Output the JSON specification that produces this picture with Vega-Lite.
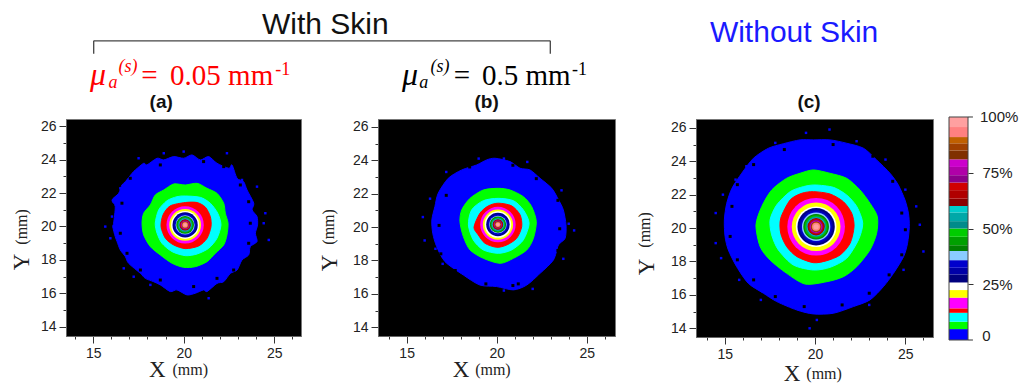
{"$schema":"https://vega.github.io/schema/vega-lite/v6.json","padding":{"left":10,"top":9,"right":0,"bottom":0},"bounds":"flush","spacing":0,"background":"white",
"config":{"range":{"ordinal":["#0000ff","#00ff00","#00ffff","#ff0000","#ff00ff","#ffff00","#ffffff","#00007f","#0000a8","#0000cc","#8accff","#008000","#00a000","#00cc00","#008b8b","#00a8a8","#00cccc","#8b0000","#b00000","#d00000","#8b008b","#b000a8","#cc00cc","#803000","#a04000","#c06000","#ff8080","#ffa0a0"]},"axis":{"grid":false,"title":null,"labelFont":"Liberation Sans","labelFontSize":14,"labelColor":"#222","tickColor":"#333","domainColor":"#666","labelPadding":3,"labelFlush":false,"labelOverlap":false},"view":{"stroke":null},"line":{"interpolate":"cardinal-closed","tension":0.2}},
"hconcat":[
{"width":235,"height":217,"view":{"fill":"black","stroke":"#777"},
"encoding":{"x":{"field":"x","type":"quantitative","scale":{"domain":[13.5,26.48],"nice":false,"zero":false},"axis":{"orient":"bottom","values":[14,15,16,17,18,19,20,21,22,23,24,25,26],"tickSize":{"expr":"datum.value%5==0?7:3"},"labelExpr":"datum.value%5==0?datum.label:''"}},"y":{"field":"y","type":"quantitative","scale":{"domain":[13.44,26.43],"nice":false,"zero":false},"axis":{"orient":"left","values":[14,15,16,17,18,19,20,21,22,23,24,25,26],"tickSize":{"expr":"datum.value%2==0?7:3"},"labelExpr":"datum.value%2==0?datum.label:''"}}},
"layer":[
{"data":{"values":[{"i":0,"x":20,"y":24.08},{"i":1,"x":20.46,"y":24.28},{"i":2,"x":20.92,"y":23.98},{"i":3,"x":21.38,"y":24.18},{"i":4,"x":21.84,"y":23.78},{"i":5,"x":22.49,"y":23.48},{"i":6,"x":22.67,"y":23.68},{"i":7,"x":22.95,"y":22.88},{"i":8,"x":23.31,"y":22.68},{"i":9,"x":23.5,"y":22.18},{"i":10,"x":23.87,"y":21.39},{"i":11,"x":23.78,"y":20.99},{"i":12,"x":24.05,"y":20.59},{"i":13,"x":24.08,"y":20.09},{"i":14,"x":23.96,"y":19.59},{"i":15,"x":24.05,"y":19.09},{"i":16,"x":23.68,"y":18.79},{"i":17,"x":23.59,"y":18.29},{"i":18,"x":23.22,"y":17.99},{"i":19,"x":22.95,"y":17.39},{"i":20,"x":22.58,"y":17.19},{"i":21,"x":22.21,"y":16.69},{"i":22,"x":21.84,"y":16.59},{"i":23,"x":21.29,"y":16.1},{"i":24,"x":21.1,"y":16.2},{"i":25,"x":20.64,"y":16},{"i":26,"x":20.18,"y":15.9},{"i":27,"x":19.63,"y":16.2},{"i":28,"x":19.26,"y":16.1},{"i":29,"x":18.71,"y":16.5},{"i":30,"x":18.34,"y":16.69},{"i":31,"x":17.88,"y":16.89},{"i":32,"x":17.61,"y":17.19},{"i":33,"x":16.96,"y":17.79},{"i":34,"x":16.78,"y":18.19},{"i":35,"x":16.5,"y":18.59},{"i":36,"x":16.32,"y":19.09},{"i":37,"x":16.22,"y":19.39},{"i":38,"x":16.08,"y":19.99},{"i":39,"x":16.13,"y":20.19},{"i":40,"x":16.22,"y":21.19},{"i":41,"x":16.04,"y":21.58},{"i":42,"x":16.41,"y":21.98},{"i":43,"x":16.59,"y":22.48},{"i":44,"x":16.78,"y":22.68},{"i":45,"x":17.15,"y":23.18},{"i":46,"x":17.33,"y":23.38},{"i":47,"x":17.79,"y":23.78},{"i":48,"x":17.97,"y":23.68},{"i":49,"x":18.53,"y":24.08},{"i":50,"x":18.9,"y":23.98},{"i":51,"x":19.45,"y":24.18}]},"mark":{"type":"line","fill":"#0000ff","stroke":"#0000ff","strokeWidth":1},"encoding":{"order":{"field":"i","type":"quantitative"}}},
{"data":{"values":[{"x":18.71,"y":23.68},{"x":21.1,"y":23.88},{"x":22.21,"y":23.58},{"x":23.13,"y":22.48},{"x":23.59,"y":21.48},{"x":23.68,"y":20.19},{"x":23.59,"y":18.99},{"x":22.76,"y":17.39},{"x":21.84,"y":16.89},{"x":20.55,"y":16.4},{"x":18.71,"y":16.79},{"x":17.61,"y":17.39},{"x":16.87,"y":18.39},{"x":16.5,"y":19.59},{"x":16.59,"y":21.39},{"x":17.05,"y":22.88}]},"mark":{"type":"point","shape":"square","filled":true,"opacity":1,"strokeWidth":0,"size":9,"color":"#000"}},
{"data":{"values":[{"x":18.9,"y":24.38},{"x":20,"y":24.48},{"x":22.39,"y":24.38},{"x":17.51,"y":24.08},{"x":15.67,"y":19.99},{"x":16.04,"y":20.59},{"x":15.95,"y":19.29},{"x":16.13,"y":21.49},{"x":16.5,"y":22.28},{"x":24.51,"y":20.79},{"x":24.42,"y":20.19},{"x":24.7,"y":19.19},{"x":21.38,"y":15.7},{"x":18.16,"y":16.5},{"x":16.69,"y":17.49},{"x":23.22,"y":22.78},{"x":24.05,"y":22.38},{"x":17.24,"y":16.99}]},"mark":{"type":"point","shape":"square","filled":true,"opacity":1,"strokeWidth":0,"size":6,"color":"#0000ff"}},
{"data":{"values":[{"i":0,"x":20.09,"y":22.48},{"i":1,"x":20.74,"y":22.58},{"i":2,"x":21.29,"y":22.28},{"i":3,"x":21.84,"y":21.98},{"i":4,"x":22.21,"y":21.39},{"i":5,"x":22.3,"y":20.79},{"i":6,"x":22.45,"y":20.19},{"i":7,"x":22.39,"y":19.49},{"i":8,"x":22.21,"y":18.89},{"i":9,"x":21.75,"y":18.39},{"i":10,"x":21.29,"y":17.89},{"i":11,"x":20.64,"y":17.59},{"i":12,"x":20,"y":17.55},{"i":13,"x":19.36,"y":17.79},{"i":14,"x":18.71,"y":18.29},{"i":15,"x":18.16,"y":18.79},{"i":16,"x":17.79,"y":19.49},{"i":17,"x":17.7,"y":20.19},{"i":18,"x":17.79,"y":20.79},{"i":19,"x":18.16,"y":21.29},{"i":20,"x":18.43,"y":21.88},{"i":21,"x":18.9,"y":22.18},{"i":22,"x":19.45,"y":22.54}]},"mark":{"type":"line","fill":"#00ff00","stroke":"#00ff00","strokeWidth":1},"encoding":{"order":{"field":"i","type":"quantitative"}}},
{"data":{"values":[{"i":0,"x":20.09,"y":21.82},{"i":1,"x":20.92,"y":21.74},{"i":2,"x":21.47,"y":21.39},{"i":3,"x":21.88,"y":20.79},{"i":4,"x":22.06,"y":20.09},{"i":5,"x":21.84,"y":19.29},{"i":6,"x":21.38,"y":18.69},{"i":7,"x":20.74,"y":18.35},{"i":8,"x":20.09,"y":18.25},{"i":9,"x":19.36,"y":18.49},{"i":10,"x":18.8,"y":18.99},{"i":11,"x":18.53,"y":19.59},{"i":12,"x":18.43,"y":20.19},{"i":13,"x":18.62,"y":20.99},{"i":14,"x":19.08,"y":21.54},{"i":15,"x":19.63,"y":21.78}]},"mark":{"type":"line","fill":"#00ffff","stroke":"#00ffff","strokeWidth":1},"encoding":{"order":{"field":"i","type":"quantitative"}}},
{"data":{"values":[{"i":0,"x":20.09,"y":21.43},{"i":1,"x":20.74,"y":21.43},{"i":2,"x":21.2,"y":21.15},{"i":3,"x":21.47,"y":20.59},{"i":4,"x":21.51,"y":19.99},{"i":5,"x":21.29,"y":19.29},{"i":6,"x":20.83,"y":18.83},{"i":7,"x":20.09,"y":18.67},{"i":8,"x":19.45,"y":18.89},{"i":9,"x":18.99,"y":19.29},{"i":10,"x":18.75,"y":19.99},{"i":11,"x":18.86,"y":20.69},{"i":12,"x":19.26,"y":21.23}]},"mark":{"type":"line","fill":"#ff0000","stroke":"#ff0000","strokeWidth":1},"encoding":{"order":{"field":"i","type":"quantitative"}}},
{"data":{"values":[{"l":5,"r":1.21,"x":20.08,"y":20.09},{"l":6,"r":1.03,"x":20.08,"y":20.09},{"l":7,"r":0.91,"x":20.08,"y":20.09},{"l":8,"r":0.82,"x":20.08,"y":20.09},{"l":9,"r":0.75,"x":20.08,"y":20.09},{"l":10,"r":0.69,"x":20.08,"y":20.09},{"l":11,"r":0.62,"x":20.08,"y":20.09},{"l":12,"r":0.57,"x":20.08,"y":20.09},{"l":13,"r":0.53,"x":20.08,"y":20.09},{"l":14,"r":0.49,"x":20.08,"y":20.09},{"l":15,"r":0.46,"x":20.08,"y":20.09},{"l":16,"r":0.43,"x":20.08,"y":20.09},{"l":17,"r":0.4,"x":20.08,"y":20.09},{"l":18,"r":0.37,"x":20.08,"y":20.09},{"l":19,"r":0.34,"x":20.08,"y":20.09},{"l":20,"r":0.32,"x":20.08,"y":20.09},{"l":21,"r":0.29,"x":20.08,"y":20.09},{"l":22,"r":0.26,"x":20.08,"y":20.09},{"l":23,"r":0.24,"x":20.08,"y":20.09},{"l":24,"r":0.22,"x":20.08,"y":20.09},{"l":25,"r":0.21,"x":20.08,"y":20.09},{"l":26,"r":0.19,"x":20.08,"y":20.09},{"l":27,"r":0.17,"x":20.08,"y":20.09},{"l":28,"r":0.11,"x":20.08,"y":20.09}]},"mark":{"type":"point","filled":true,"opacity":1,"strokeWidth":0},"encoding":{"color":{"field":"l","type":"ordinal","legend":null,"scale":{"domain":[1,2,3,4,5,6,7,8,9,10,11,12,13,14,15,16,17,18,19,20,21,22,23,24,25,26,27,28]}},"size":{"field":"r","type":"quantitative","legend":null,"scale":{"type":"pow","exponent":2,"domain":[0,10],"range":[0,95114]}}}},
{"data":{"values":[{"x":15.03,"x2":40.25,"y":31.11,"y2":31.11},{"x":15.03,"x2":15.03,"y":31.11,"y2":30.33},{"x":40.25,"x2":40.25,"y":31.11,"y2":30.33}]},"mark":{"type":"rule","color":"#444","strokeWidth":1.3},"encoding":{"x2":{"field":"x2"},"y2":{"field":"y2"}}},
{"data":{"values":[{"t":"With Skin","x":27.82,"y":32.04}]},"mark":{"type":"text","font":"Liberation Sans","fontSize":30,"color":"#111","baseline":"middle"},"encoding":{"text":{"field":"t"}}},
{"data":{"values":[{"t":"(a)","x":18.76,"y":27.46}]},"mark":{"type":"text","font":"Liberation Sans","fontWeight":"bold","fontSize":19,"color":"#111","baseline":"middle"},"encoding":{"text":{"field":"t"}}},
{"data":{"values":[{"t":"X","x":18.54,"y":11.41}]},"mark":{"type":"text","font":"Liberation Serif","fontSize":23,"color":"#222","baseline":"middle"},"encoding":{"text":{"field":"t"}}},
{"data":{"values":[{"t":"(mm)","x":20.36,"y":11.41}]},"mark":{"type":"text","font":"Liberation Serif","fontSize":16,"color":"#222","baseline":"middle"},"encoding":{"text":{"field":"t"}}},
{"data":{"values":[{"t":"Y","x":11.08,"y":17.87}]},"mark":{"type":"text","font":"Liberation Serif","fontSize":23,"color":"#222","baseline":"middle","angle":270},"encoding":{"text":{"field":"t"}}},
{"data":{"values":[{"t":"(mm)","x":11.08,"y":19.97}]},"mark":{"type":"text","font":"Liberation Serif","fontSize":16,"color":"#222","baseline":"middle","angle":270},"encoding":{"text":{"field":"t"}}},
{"data":{"values":[{"t":"μ","x":14.83,"y":28.47}]},"mark":{"type":"text","font":"Liberation Serif","fontStyle":"italic","fontSize":32,"color":"#ff0000","align":"left","baseline":"alphabetic"},"encoding":{"text":{"field":"t"}}},
{"data":{"values":[{"t":"a","x":15.85,"y":28.3},{"t":"(s)","x":16.4,"y":29.25}]},"mark":{"type":"text","font":"Liberation Serif","fontStyle":"italic","fontSize":18,"color":"#ff0000","align":"left","baseline":"alphabetic"},"encoding":{"text":{"field":"t"}}},
{"data":{"values":[{"t":"=","x":17.65,"y":28.47},{"t":"0.05 mm","x":19.25,"y":28.47}]},"mark":{"type":"text","font":"Liberation Serif","fontSize":29,"color":"#ff0000","align":"left","baseline":"alphabetic"},"encoding":{"text":{"field":"t"}}},
{"data":{"values":[{"t":"-1","x":25.06,"y":29.07}]},"mark":{"type":"text","font":"Liberation Serif","fontSize":18,"color":"#ff0000","align":"left","baseline":"alphabetic"},"encoding":{"text":{"field":"t"}}}
]},
{"width":77,"height":10,"data":{"values":[]},"mark":"point"},
{"width":237,"height":217,"view":{"fill":"black","stroke":"#777"},
"encoding":{"x":{"field":"x","type":"quantitative","scale":{"domain":[13.41,26.57],"nice":false,"zero":false},"axis":{"orient":"bottom","values":[14,15,16,17,18,19,20,21,22,23,24,25,26],"tickSize":{"expr":"datum.value%5==0?7:3"},"labelExpr":"datum.value%5==0?datum.label:''"}},"y":{"field":"y","type":"quantitative","scale":{"domain":[13.48,26.47],"nice":false,"zero":false},"axis":{"orient":"left","values":[14,15,16,17,18,19,20,21,22,23,24,25,26],"tickSize":{"expr":"datum.value%2==0?7:3"},"labelExpr":"datum.value%2==0?datum.label:''"}}},
"layer":[
{"data":{"values":[{"i":0,"x":19.91,"y":24.12},{"i":1,"x":20.74,"y":23.92},{"i":2,"x":21.3,"y":23.52},{"i":3,"x":21.85,"y":23.42},{"i":4,"x":22.41,"y":22.92},{"i":5,"x":23.06,"y":22.32},{"i":6,"x":23.44,"y":21.62},{"i":7,"x":23.7,"y":21.03},{"i":8,"x":23.85,"y":20.13},{"i":9,"x":23.8,"y":19.33},{"i":10,"x":23.43,"y":18.93},{"i":11,"x":23.15,"y":18.03},{"i":12,"x":22.41,"y":17.23},{"i":13,"x":21.67,"y":16.53},{"i":14,"x":20.93,"y":16.24},{"i":15,"x":20,"y":16.44},{"i":16,"x":19.07,"y":16.53},{"i":17,"x":18.15,"y":17.13},{"i":18,"x":17.13,"y":17.93},{"i":19,"x":16.67,"y":18.83},{"i":20,"x":16.45,"y":19.63},{"i":21,"x":16.4,"y":20.43},{"i":22,"x":16.57,"y":21.23},{"i":23,"x":16.75,"y":22.02},{"i":24,"x":17.31,"y":22.92},{"i":25,"x":18.06,"y":23.42},{"i":26,"x":18.89,"y":23.72},{"i":27,"x":19.44,"y":24.02}]},"mark":{"type":"line","fill":"#0000ff","stroke":"#0000ff","strokeWidth":1},"encoding":{"order":{"field":"i","type":"quantitative"}}},
{"data":{"values":[{"x":18.5,"y":23.6},{"x":20.9,"y":23.7},{"x":22.2,"y":22.9},{"x":23.4,"y":21.6},{"x":23.5,"y":19.9},{"x":23.4,"y":18.6},{"x":22.4,"y":17},{"x":20.9,"y":16.5},{"x":19.4,"y":16.6},{"x":17.7,"y":17.4},{"x":16.9,"y":18.4},{"x":16.8,"y":20.1},{"x":17.2,"y":21.9},{"x":21.2,"y":16.6}]},"mark":{"type":"point","shape":"square","filled":true,"opacity":1,"strokeWidth":0,"size":9,"color":"#000"}},
{"data":{"values":[{"x":15.9,"y":20.6},{"x":16,"y":19.2},{"x":16.3,"y":21.7},{"x":17.2,"y":23.3},{"x":19,"y":24.1},{"x":20.4,"y":24.1},{"x":21.7,"y":23.9},{"x":23.6,"y":22.2},{"x":24,"y":20.2},{"x":24.3,"y":19.8},{"x":23.7,"y":18.1},{"x":22,"y":16.3},{"x":20.4,"y":16.2},{"x":17,"y":17.8},{"x":16.6,"y":18.7}]},"mark":{"type":"point","shape":"square","filled":true,"opacity":1,"strokeWidth":0,"size":6,"color":"#0000ff"}},
{"data":{"values":[{"i":0,"x":20.09,"y":22.32},{"i":1,"x":20.74,"y":22.22},{"i":2,"x":21.48,"y":21.82},{"i":3,"x":21.94,"y":21.23},{"i":4,"x":22.2,"y":20.33},{"i":5,"x":22.04,"y":19.33},{"i":6,"x":21.67,"y":18.63},{"i":7,"x":20.93,"y":18.13},{"i":8,"x":20.19,"y":17.83},{"i":9,"x":19.26,"y":18.13},{"i":10,"x":18.52,"y":18.63},{"i":11,"x":18.15,"y":19.43},{"i":12,"x":17.96,"y":20.33},{"i":13,"x":18.06,"y":21.03},{"i":14,"x":18.52,"y":21.72},{"i":15,"x":19.26,"y":22.22}]},"mark":{"type":"line","fill":"#00ff00","stroke":"#00ff00","strokeWidth":1},"encoding":{"order":{"field":"i","type":"quantitative"}}},
{"data":{"values":[{"i":0,"x":20.09,"y":21.72},{"i":1,"x":20.93,"y":21.58},{"i":2,"x":21.48,"y":21.03},{"i":3,"x":21.8,"y":20.23},{"i":4,"x":21.48,"y":19.23},{"i":5,"x":20.83,"y":18.63},{"i":6,"x":20.09,"y":18.43},{"i":7,"x":19.26,"y":18.63},{"i":8,"x":18.7,"y":19.23},{"i":9,"x":18.43,"y":20.13},{"i":10,"x":18.61,"y":21.03},{"i":11,"x":19.26,"y":21.58}]},"mark":{"type":"line","fill":"#00ffff","stroke":"#00ffff","strokeWidth":1},"encoding":{"order":{"field":"i","type":"quantitative"}}},
{"data":{"values":[{"i":0,"x":20.09,"y":21.43},{"i":1,"x":20.83,"y":21.27},{"i":2,"x":21.3,"y":20.73},{"i":3,"x":21.39,"y":20.03},{"i":4,"x":21.11,"y":19.33},{"i":5,"x":20.56,"y":18.93},{"i":6,"x":20,"y":18.79},{"i":7,"x":19.35,"y":19.03},{"i":8,"x":18.98,"y":19.53},{"i":9,"x":18.74,"y":19.99},{"i":10,"x":19.07,"y":20.83},{"i":11,"x":19.54,"y":21.27}]},"mark":{"type":"line","fill":"#ff0000","stroke":"#ff0000","strokeWidth":1},"encoding":{"order":{"field":"i","type":"quantitative"}}},
{"data":{"values":[{"l":5,"r":1.15,"x":20.07,"y":20.15},{"l":6,"r":0.98,"x":20.07,"y":20.15},{"l":7,"r":0.86,"x":20.07,"y":20.15},{"l":8,"r":0.76,"x":20.07,"y":20.15},{"l":9,"r":0.7,"x":20.07,"y":20.15},{"l":10,"r":0.64,"x":20.07,"y":20.15},{"l":11,"r":0.57,"x":20.07,"y":20.15},{"l":12,"r":0.53,"x":20.07,"y":20.15},{"l":13,"r":0.49,"x":20.07,"y":20.15},{"l":14,"r":0.46,"x":20.07,"y":20.15},{"l":15,"r":0.43,"x":20.07,"y":20.15},{"l":16,"r":0.4,"x":20.07,"y":20.15},{"l":17,"r":0.37,"x":20.07,"y":20.15},{"l":18,"r":0.34,"x":20.07,"y":20.15},{"l":19,"r":0.32,"x":20.07,"y":20.15},{"l":20,"r":0.29,"x":20.07,"y":20.15},{"l":21,"r":0.26,"x":20.07,"y":20.15},{"l":22,"r":0.24,"x":20.07,"y":20.15},{"l":23,"r":0.22,"x":20.07,"y":20.15},{"l":24,"r":0.21,"x":20.07,"y":20.15},{"l":25,"r":0.19,"x":20.07,"y":20.15},{"l":26,"r":0.17,"x":20.07,"y":20.15},{"l":27,"r":0.155,"x":20.07,"y":20.15},{"l":28,"r":0.1,"x":20.07,"y":20.15}]},"mark":{"type":"point","filled":true,"opacity":1,"strokeWidth":0},"encoding":{"color":{"field":"l","type":"ordinal","legend":null,"scale":{"domain":[1,2,3,4,5,6,7,8,9,10,11,12,13,14,15,16,17,18,19,20,21,22,23,24,25,26,27,28]}},"size":{"field":"r","type":"quantitative","legend":null,"scale":{"type":"pow","exponent":2,"domain":[0,10],"range":[0,95114]}}}},
{"data":{"values":[{"t":"(b)","x":19.44,"y":27.49}]},"mark":{"type":"text","font":"Liberation Sans","fontWeight":"bold","fontSize":19,"color":"#111","baseline":"middle"},"encoding":{"text":{"field":"t"}}},
{"data":{"values":[{"t":"X","x":18.02,"y":11.44}]},"mark":{"type":"text","font":"Liberation Serif","fontSize":23,"color":"#222","baseline":"middle"},"encoding":{"text":{"field":"t"}}},
{"data":{"values":[{"t":"(mm)","x":19.79,"y":11.44}]},"mark":{"type":"text","font":"Liberation Serif","fontSize":16,"color":"#222","baseline":"middle"},"encoding":{"text":{"field":"t"}}},
{"data":{"values":[{"t":"Y","x":10.74,"y":17.85}]},"mark":{"type":"text","font":"Liberation Serif","fontSize":23,"color":"#222","baseline":"middle","angle":270},"encoding":{"text":{"field":"t"}}},
{"data":{"values":[{"t":"(mm)","x":10.68,"y":20.01}]},"mark":{"type":"text","font":"Liberation Serif","fontSize":16,"color":"#222","baseline":"middle","angle":270},"encoding":{"text":{"field":"t"}}},
{"data":{"values":[{"t":"μ","x":14.74,"y":28.51}]},"mark":{"type":"text","font":"Liberation Serif","fontStyle":"italic","fontSize":32,"color":"#000","align":"left","baseline":"alphabetic"},"encoding":{"text":{"field":"t"}}},
{"data":{"values":[{"t":"a","x":15.7,"y":28.34},{"t":"(s)","x":16.32,"y":29.29}]},"mark":{"type":"text","font":"Liberation Serif","fontStyle":"italic","fontSize":18,"color":"#000","align":"left","baseline":"alphabetic"},"encoding":{"text":{"field":"t"}}},
{"data":{"values":[{"t":"=","x":17.62,"y":28.51},{"t":"0.5 mm","x":19.18,"y":28.51}]},"mark":{"type":"text","font":"Liberation Serif","fontSize":29,"color":"#000","align":"left","baseline":"alphabetic"},"encoding":{"text":{"field":"t"}}},
{"data":{"values":[{"t":"-1","x":24.18,"y":29.11}]},"mark":{"type":"text","font":"Liberation Serif","fontSize":18,"color":"#000","align":"left","baseline":"alphabetic"},"encoding":{"text":{"field":"t"}}}
]},
{"width":81,"height":10,"data":{"values":[]},"mark":"point"},
{"width":237,"height":218,"view":{"fill":"black","stroke":"#777"},
"encoding":{"x":{"field":"x","type":"quantitative","scale":{"domain":[13.41,26.53],"nice":false,"zero":false},"axis":{"orient":"bottom","values":[14,15,16,17,18,19,20,21,22,23,24,25,26],"tickSize":{"expr":"datum.value%5==0?7:3"},"labelExpr":"datum.value%5==0?datum.label:''"}},"y":{"field":"y","type":"quantitative","scale":{"domain":[13.48,26.53],"nice":false,"zero":false},"axis":{"orient":"left","values":[14,15,16,17,18,19,20,21,22,23,24,25,26],"tickSize":{"expr":"datum.value%2==0?7:3"},"labelExpr":"datum.value%2==0?datum.label:''"}}},
"layer":[
{"data":{"values":[{"i":0,"x":19.91,"y":25.28},{"i":1,"x":20.83,"y":25.28},{"i":2,"x":21.75,"y":25.08},{"i":3,"x":22.68,"y":24.78},{"i":4,"x":23.41,"y":24.08},{"i":5,"x":24.15,"y":23.28},{"i":6,"x":24.61,"y":22.58},{"i":7,"x":24.98,"y":21.68},{"i":8,"x":25.17,"y":20.89},{"i":9,"x":25.22,"y":20.09},{"i":10,"x":25.12,"y":19.09},{"i":11,"x":24.9,"y":18.29},{"i":12,"x":24.34,"y":17.29},{"i":13,"x":23.78,"y":16.49},{"i":14,"x":23.04,"y":15.7},{"i":15,"x":22.12,"y":15.3},{"i":16,"x":21.01,"y":14.9},{"i":17,"x":19.91,"y":14.86},{"i":18,"x":18.98,"y":15.1},{"i":19,"x":17.88,"y":15.6},{"i":20,"x":17.14,"y":16.1},{"i":21,"x":16.31,"y":16.69},{"i":22,"x":15.66,"y":17.69},{"i":23,"x":15.2,"y":18.69},{"i":24,"x":15.02,"y":19.49},{"i":25,"x":14.98,"y":20.49},{"i":26,"x":15.11,"y":21.48},{"i":27,"x":15.4,"y":22.38},{"i":28,"x":15.94,"y":23.28},{"i":29,"x":16.59,"y":24.18},{"i":30,"x":17.42,"y":24.78},{"i":31,"x":18.25,"y":25.05},{"i":32,"x":19.17,"y":25.28}]},"mark":{"type":"line","fill":"#0000ff","stroke":"#0000ff","strokeWidth":1},"encoding":{"order":{"field":"i","type":"quantitative"}}},
{"data":{"values":[{"x":18.3,"y":24.7},{"x":21,"y":25},{"x":23.2,"y":24.3},{"x":24.3,"y":22.8},{"x":24.8,"y":20.9},{"x":25,"y":19.9},{"x":24.8,"y":18.4},{"x":24.1,"y":17.2},{"x":23,"y":16.1},{"x":21.5,"y":15.4},{"x":19.4,"y":15.3},{"x":17.8,"y":15.9},{"x":16.6,"y":16.9},{"x":15.7,"y":18.1},{"x":15.3,"y":19.5},{"x":15.4,"y":21.3},{"x":15.7,"y":22.6},{"x":16.6,"y":23.8}]},"mark":{"type":"point","shape":"square","filled":true,"opacity":1,"strokeWidth":0,"size":9,"color":"#000"}},
{"data":{"values":[{"x":14.5,"y":19.1},{"x":14.5,"y":20.9},{"x":14.9,"y":22},{"x":15.6,"y":22.9},{"x":16.2,"y":23.7},{"x":17.8,"y":25.1},{"x":19.5,"y":25.7},{"x":20.8,"y":25.9},{"x":22.3,"y":25.2},{"x":23.9,"y":24.1},{"x":25,"y":22.3},{"x":25.6,"y":21.3},{"x":25.8,"y":20.2},{"x":26,"y":18.6},{"x":24.9,"y":17.5},{"x":23,"y":15.4},{"x":20.1,"y":14.5},{"x":19.7,"y":14},{"x":17,"y":15.7},{"x":15.8,"y":16.9},{"x":14.8,"y":18.2}]},"mark":{"type":"point","shape":"square","filled":true,"opacity":1,"strokeWidth":0,"size":6,"color":"#0000ff"}},
{"data":{"values":[{"i":0,"x":19.91,"y":23.48},{"i":1,"x":20.83,"y":23.28},{"i":2,"x":21.75,"y":22.98},{"i":3,"x":22.49,"y":22.28},{"i":4,"x":23.04,"y":21.49},{"i":5,"x":23.45,"y":20.69},{"i":6,"x":23.41,"y":19.69},{"i":7,"x":23.04,"y":18.69},{"i":8,"x":22.31,"y":17.69},{"i":9,"x":21.57,"y":17.09},{"i":10,"x":20.65,"y":16.79},{"i":11,"x":19.45,"y":16.65},{"i":12,"x":18.43,"y":17.29},{"i":13,"x":17.51,"y":18.09},{"i":14,"x":16.96,"y":18.89},{"i":15,"x":16.73,"y":20.19},{"i":16,"x":17.05,"y":21.29},{"i":17,"x":17.6,"y":22.28},{"i":18,"x":18.43,"y":22.98},{"i":19,"x":19.17,"y":23.28}]},"mark":{"type":"line","fill":"#00ff00","stroke":"#00ff00","strokeWidth":1},"encoding":{"order":{"field":"i","type":"quantitative"}}},
{"data":{"values":[{"i":0,"x":20,"y":22.58},{"i":1,"x":21.01,"y":22.44},{"i":2,"x":21.75,"y":21.98},{"i":3,"x":22.31,"y":21.29},{"i":4,"x":22.64,"y":20.29},{"i":5,"x":22.4,"y":19.29},{"i":6,"x":21.75,"y":18.19},{"i":7,"x":20.83,"y":17.65},{"i":8,"x":19.91,"y":17.49},{"i":9,"x":18.8,"y":17.79},{"i":10,"x":17.97,"y":18.69},{"i":11,"x":17.6,"y":19.59},{"i":12,"x":17.51,"y":20.49},{"i":13,"x":17.88,"y":21.39},{"i":14,"x":18.62,"y":22.18},{"i":15,"x":19.35,"y":22.48}]},"mark":{"type":"line","fill":"#00ffff","stroke":"#00ffff","strokeWidth":1},"encoding":{"order":{"field":"i","type":"quantitative"}}},
{"data":{"values":[{"i":0,"x":19.91,"y":22.18},{"i":1,"x":20.83,"y":22.04},{"i":2,"x":21.57,"y":21.58},{"i":3,"x":22.03,"y":20.89},{"i":4,"x":22.16,"y":20.09},{"i":5,"x":21.94,"y":19.09},{"i":6,"x":21.39,"y":18.39},{"i":7,"x":20.65,"y":18.05},{"i":8,"x":19.91,"y":17.93},{"i":9,"x":19,"y":18.29},{"i":10,"x":18.43,"y":18.89},{"i":11,"x":18.1,"y":19.69},{"i":12,"x":18.1,"y":20.59},{"i":13,"x":18.62,"y":21.68},{"i":14,"x":19.26,"y":22.08}]},"mark":{"type":"line","fill":"#ff0000","stroke":"#ff0000","strokeWidth":1},"encoding":{"order":{"field":"i","type":"quantitative"}}},
{"data":{"values":[{"l":5,"r":1.87,"x":20.06,"y":20.08},{"l":6,"r":1.58,"x":20.06,"y":20.08},{"l":7,"r":1.32,"x":20.06,"y":20.08},{"l":8,"r":1.21,"x":20.06,"y":20.08},{"l":9,"r":1.09,"x":20.06,"y":20.08},{"l":10,"r":1.01,"x":20.06,"y":20.08},{"l":11,"r":0.92,"x":20.06,"y":20.08},{"l":12,"r":0.83,"x":20.06,"y":20.08},{"l":13,"r":0.78,"x":20.06,"y":20.08},{"l":14,"r":0.72,"x":20.06,"y":20.08},{"l":15,"r":0.66,"x":20.06,"y":20.08},{"l":16,"r":0.63,"x":20.06,"y":20.08},{"l":17,"r":0.59,"x":20.06,"y":20.08},{"l":18,"r":0.56,"x":20.06,"y":20.08},{"l":19,"r":0.52,"x":20.06,"y":20.08},{"l":20,"r":0.48,"x":20.06,"y":20.08},{"l":21,"r":0.44,"x":20.06,"y":20.08},{"l":22,"r":0.4,"x":20.06,"y":20.08},{"l":23,"r":0.37,"x":20.06,"y":20.08},{"l":24,"r":0.34,"x":20.06,"y":20.08},{"l":25,"r":0.32,"x":20.06,"y":20.08},{"l":26,"r":0.29,"x":20.06,"y":20.08},{"l":27,"r":0.26,"x":20.06,"y":20.08},{"l":28,"r":0.17,"x":20.06,"y":20.08}]},"mark":{"type":"point","filled":true,"opacity":1,"strokeWidth":0},"encoding":{"color":{"field":"l","type":"ordinal","legend":null,"scale":{"domain":[1,2,3,4,5,6,7,8,9,10,11,12,13,14,15,16,17,18,19,20,21,22,23,24,25,26,27,28]}},"size":{"field":"r","type":"quantitative","legend":null,"scale":{"type":"pow","exponent":2,"domain":[0,10],"range":[0,95114]}}}},
{"data":{"values":[{"t":"Without Skin","x":18.84,"y":31.68}]},"mark":{"type":"text","font":"Liberation Sans","fontSize":30,"color":"#1a1aff","baseline":"middle"},"encoding":{"text":{"field":"t"}}},
{"data":{"values":[{"t":"(c)","x":19.67,"y":27.55}]},"mark":{"type":"text","font":"Liberation Sans","fontWeight":"bold","fontSize":19,"color":"#111","baseline":"middle"},"encoding":{"text":{"field":"t"}}},
{"data":{"values":[{"t":"X","x":18.73,"y":11.26}]},"mark":{"type":"text","font":"Liberation Serif","fontSize":23,"color":"#222","baseline":"middle"},"encoding":{"text":{"field":"t"}}},
{"data":{"values":[{"t":"(mm)","x":20.5,"y":11.26}]},"mark":{"type":"text","font":"Liberation Serif","fontSize":16,"color":"#222","baseline":"middle"},"encoding":{"text":{"field":"t"}}},
{"data":{"values":[{"t":"Y","x":10.7,"y":17.67}]},"mark":{"type":"text","font":"Liberation Serif","fontSize":23,"color":"#222","baseline":"middle","angle":270},"encoding":{"text":{"field":"t"}}},
{"data":{"values":[{"t":"(mm)","x":10.59,"y":19.89}]},"mark":{"type":"text","font":"Liberation Serif","fontSize":16,"color":"#222","baseline":"middle","angle":270},"encoding":{"text":{"field":"t"}}}
]},
{"width":16,"height":10,"data":{"values":[]},"mark":"point"},
{"width":19,"height":218,
"encoding":{"x":{"field":"a","type":"quantitative","axis":null,"scale":{"domain":[0,1],"nice":false,"zero":false}},"y":{"field":"lo","type":"quantitative","scale":{"domain":[1.35,99.1],"nice":false,"zero":false},"axis":{"orient":"right","values":[25,50,75],"tickSize":5,"labelPadding":9,"labelAlign":"left","labelFontSize":15,"domain":false,"labelExpr":"datum.value+'%'"}}},
"layer":[
{"data":{"values":[{"a":0,"b":1,"l":1,"lo":0,"hi":4.9},{"a":0,"b":1,"l":2,"lo":4.9,"hi":8.2},{"a":0,"b":1,"l":3,"lo":8.2,"hi":12.2},{"a":0,"b":1,"l":4,"lo":12.2,"hi":14.2},{"a":0,"b":1,"l":5,"lo":14.2,"hi":19},{"a":0,"b":1,"l":6,"lo":19,"hi":22.4},{"a":0,"b":1,"l":7,"lo":22.4,"hi":25.8},{"a":0,"b":1,"l":8,"lo":25.8,"hi":29.4},{"a":0,"b":1,"l":9,"lo":29.4,"hi":32.4},{"a":0,"b":1,"l":10,"lo":32.4,"hi":35.8},{"a":0,"b":1,"l":11,"lo":35.8,"hi":39.9},{"a":0,"b":1,"l":12,"lo":39.9,"hi":42.5},{"a":0,"b":1,"l":13,"lo":42.5,"hi":46.3},{"a":0,"b":1,"l":14,"lo":46.3,"hi":50},{"a":0,"b":1,"l":15,"lo":50,"hi":53.3},{"a":0,"b":1,"l":16,"lo":53.3,"hi":57.2},{"a":0,"b":1,"l":17,"lo":57.2,"hi":60.1},{"a":0,"b":1,"l":18,"lo":60.1,"hi":63.4},{"a":0,"b":1,"l":19,"lo":63.4,"hi":67.2},{"a":0,"b":1,"l":20,"lo":67.2,"hi":70.6},{"a":0,"b":1,"l":21,"lo":70.6,"hi":73.9},{"a":0,"b":1,"l":22,"lo":73.9,"hi":77.6},{"a":0,"b":1,"l":23,"lo":77.6,"hi":81},{"a":0,"b":1,"l":24,"lo":81,"hi":85},{"a":0,"b":1,"l":25,"lo":85,"hi":88.2},{"a":0,"b":1,"l":26,"lo":88.2,"hi":91},{"a":0,"b":1,"l":27,"lo":91,"hi":95.5},{"a":0,"b":1,"l":28,"lo":95.5,"hi":100}]},"mark":{"type":"rect"},"encoding":{"x2":{"field":"b"},"y2":{"field":"hi"},"color":{"field":"l","type":"ordinal","legend":null,"scale":{"domain":[1,2,3,4,5,6,7,8,9,10,11,12,13,14,15,16,17,18,19,20,21,22,23,24,25,26,27,28]}}}},
{"data":{"values":[{"a":0,"b":1,"lo":0,"hi":100}]},"mark":{"type":"rect","fill":null,"stroke":"#444","strokeWidth":1},"encoding":{"x2":{"field":"b"},"y2":{"field":"hi"}}},
{"data":{"values":[{"a":1,"b":1.26,"lo":0,"hi":0},{"a":1,"b":1.26,"lo":100,"hi":100}]},"mark":{"type":"rule","color":"#333","strokeWidth":1},"encoding":{"x2":{"field":"b"},"y2":{"field":"hi"}}},
{"data":{"values":[{"a":1.75,"lo":1.8,"t":"0"},{"a":1.63,"lo":100,"t":"100%"}]},"mark":{"type":"text","font":"Liberation Sans","fontSize":15,"color":"#222","align":"left","baseline":"middle"},"encoding":{"text":{"field":"t"}}}
]}
]}
